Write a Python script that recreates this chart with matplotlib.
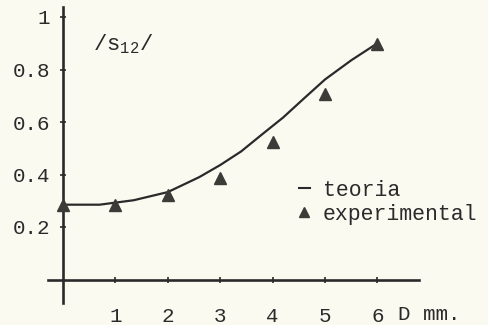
import matplotlib.pyplot as plt
from matplotlib.lines import Line2D

# distancia D (mm) y |s12|
d_teoria = [0, 0.7, 1.35, 2.0, 2.6, 3.0, 3.4, 3.8, 4.2, 4.6, 5.0, 5.5, 6.0]
s_teoria = [0.285, 0.285, 0.302, 0.333, 0.39, 0.436, 0.488, 0.553, 0.617, 0.69, 0.762, 0.835, 0.90]
d_exp = [0, 1, 2, 3, 4, 5, 6]
s_exp = [0.285, 0.285, 0.322, 0.387, 0.524, 0.706, 0.897]
xticks = [1, 2, 3, 4, 5, 6]
yticks = [0.2, 0.4, 0.6, 0.8, 1]
ytick_labels = ["0.2", "0.4", "0.6", "0.8", "1"]

plt.rcParams['font.family'] = ['Liberation Mono', 'DejaVu Sans Mono']
plt.rcParams['mathtext.fontset'] = 'custom'
plt.rcParams['mathtext.rm'] = 'Liberation Mono'

paper = '#fbfaf1'
ink = '#2a2a2a'

fig = plt.figure(figsize=(4.88, 3.25), dpi=100, facecolor=paper)
ax = fig.add_axes([0, 0, 1, 1], facecolor=paper)
ax.set_xlim(-63 / 52.4, (488 - 63) / 52.4)
ax.set_ylim(-45.5 / 262.5, (325 - 45.5) / 262.5)

ax.plot(d_teoria, s_teoria, color=ink, lw=1.6, zorder=3)
ax.plot(d_exp, s_exp, '^', color='#3b3b38', ms=8.8, zorder=4, clip_on=False)

# ejes en el origen
for side in ['top', 'right']:
    ax.spines[side].set_visible(False)
ax.spines['left'].set_position(('data', 0))
ax.spines['bottom'].set_position(('data', 0))
ax.spines['left'].set_bounds(-0.09, 1.04)
ax.spines['bottom'].set_bounds(-0.29, 6.8)
for side in ['left', 'bottom']:
    ax.spines[side].set_linewidth(1.9)
    ax.spines[side].set_color(ink)

ax.set_xticks(xticks)
ax.set_yticks(yticks)
ax.set_yticklabels(ytick_labels)
ax.tick_params(axis='both', direction='inout', length=5, width=1.2, color=ink,
               labelsize=15, labelcolor=ink)
ax.tick_params(axis='y', pad=7)
ax.tick_params(axis='x', pad=17)

ax.text(6.4, -0.135, 'D mm.', fontsize=15, color=ink, ha='left', va='center')
ax.text(0.58, 0.895, r'/s$_{\mathrm{12}}$/', fontsize=16, color=ink, ha='left', va='center')

handles = [Line2D([], [], color=ink, lw=1.5),
           Line2D([], [], marker='^', ls='none', color='#3b3b38', ms=6.5)]
ax.legend(handles, ['teoria', 'experimental'], loc='upper left',
          bbox_to_anchor=(299 / 488, 1 - 180 / 325), frameon=False,
          handlelength=0.5, handletextpad=0.6, labelspacing=0.12,
          fontsize=15.5, borderaxespad=0, borderpad=0, labelcolor=ink)

fig.savefig('out.png', dpi=100, facecolor=paper)
